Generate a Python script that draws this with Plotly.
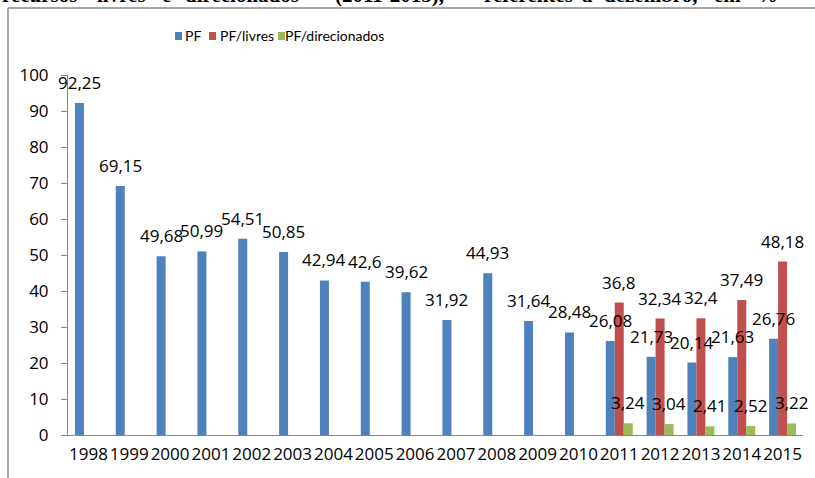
import plotly.graph_objects as go

# Taxas por ano (%), dezembro de cada ano
anos = ["1998", "1999", "2000", "2001", "2002", "2003", "2004", "2005", "2006",
        "2007", "2008", "2009", "2010", "2011", "2012", "2013", "2014", "2015"]
pf = [92.25, 69.15, 49.68, 50.99, 54.51, 50.85, 42.94, 42.6, 39.62,
      31.92, 44.93, 31.64, 28.48, 26.08, 21.73, 20.14, 21.63, 26.76]
pf_livres = [None] * 13 + [36.8, 32.34, 32.4, 37.49, 48.18]
pf_direcionados = [None] * 13 + [3.24, 3.04, 2.41, 2.52, 3.22]

series = [
    ("PF", pf, "#4F81BD"),
    ("PF/livres", pf_livres, "#C0504D"),
    ("PF/direcionados", pf_direcionados, "#9BBB59"),
]

y_ticks = list(range(0, 101, 10))

# Área do gráfico em pixels
W, H = 815, 478
L, R, T, B = 68, 12, 75, 43
PW, PH = W - L - R, H - T - B


def px_x(p):
    return (p - L) / PW


def px_y(p):
    return (H - B - p) / PH


FONT = "Open Sans"
BARGAP = 0.34
fig = go.Figure()
for name, vals, color in series:
    fig.add_trace(go.Bar(x=anos, y=vals, name=name, marker_color=color,
                         marker_line_width=0, showlegend=False))

annotations = []
# Rótulos de valor acima de cada barra (posição pelo índice da categoria)
cat_w = PW / len(anos)
bar_w = cat_w * (1 - BARGAP) / 3
for i, (name, vals, color) in enumerate(series):
    for k, v in enumerate(vals):
        if v is None:
            continue
        annotations.append(dict(
            x=k, y=v, xref="x", yref="y", text=str(v).replace(".", ","),
            showarrow=False, yanchor="bottom", xanchor="center",
            xshift=(i - 1) * bar_w, yshift=7,
            font=dict(family=FONT, size=17, color="#000000")))

# Legenda
leg_items = [("PF", "#4F81BD", 175, 184),
             ("PF/livres", "#C0504D", 209, 219),
             ("PF/direcionados", "#9BBB59", 278, 284)]
shapes = []
for text, color, sx, tx in leg_items:
    shapes.append(dict(type="rect", xref="paper", yref="paper",
                       x0=px_x(sx), x1=px_x(sx + 7), y0=px_y(40), y1=px_y(32),
                       fillcolor=color, line_width=0))
    annotations.append(dict(x=px_x(tx), y=px_y(36), xref="paper", yref="paper",
                            text=text, showarrow=False, xanchor="left",
                            yanchor="middle", borderpad=0,
                            font=dict(family="Lato", size=14, color="#000000")))

# Linha de texto do documento acima do quadro
words = [("recursos", 0), ("livres", 95), ("e", 160), ("direcionados", 183),
         ("(2011-2015),", 333), ("referentes", 482), ("a", 580),
         ("dezembro,", 602), ("em", 712), ("%", 755)]
for w, xw in words:
    annotations.append(dict(x=px_x(xw), y=px_y(9), xref="paper", yref="paper",
                            text="<b>" + w + "</b>", showarrow=False,
                            xanchor="left", yanchor="bottom",
                            font=dict(family="Liberation Serif", size=21,
                                      color="#000000")))

# Moldura do gráfico
frame = "#8A8A8A"
shapes.append(dict(type="line", xref="paper", yref="paper",
                   x0=px_x(8), x1=px_x(820), y0=px_y(8), y1=px_y(8),
                   line=dict(color=frame, width=1.5)))
shapes.append(dict(type="line", xref="paper", yref="paper",
                   x0=px_x(8), x1=px_x(8), y0=px_y(8), y1=px_y(490),
                   line=dict(color=frame, width=1.5)))

fig.update_layout(
    width=W, height=H,
    margin=dict(l=L, r=R, t=T, b=B, pad=0),
    barmode="group", bargap=BARGAP, bargroupgap=0,
    plot_bgcolor="white", paper_bgcolor="white",
    font=dict(family=FONT, size=17, color="#000000"),
    annotations=annotations, shapes=shapes,
    xaxis=dict(type="category", range=[-0.5, len(anos) - 0.5],
               showgrid=False, showline=True, automargin=False,
               linecolor="#868686", linewidth=1, ticks="", tickangle=0,
               ticklabelstandoff=4, tickfont=dict(size=17)),
    yaxis=dict(range=[0, 100], tickvals=y_ticks, showgrid=False,
               zeroline=False, showline=True, linecolor="#868686",
               linewidth=1, ticks="outside", ticklen=6, tickcolor="#868686",
               automargin=False,
               ticklabelstandoff=9, tickfont=dict(size=17)),
)

fig.write_html("out.html")
